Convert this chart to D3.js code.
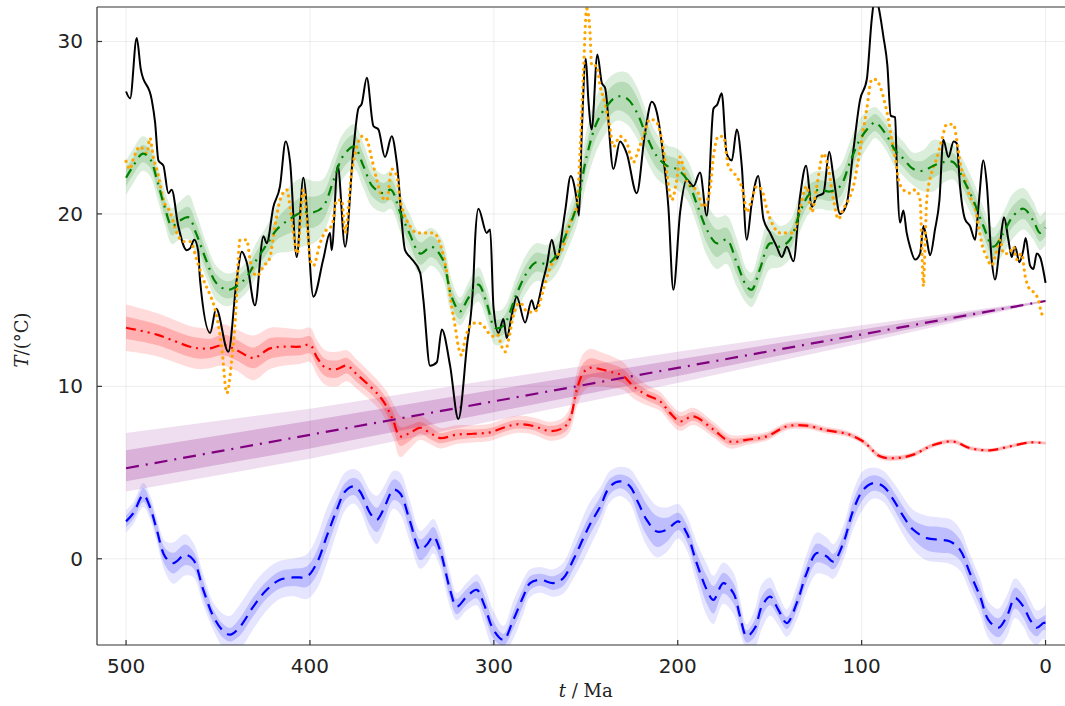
<!DOCTYPE html>
<html><head><meta charset="utf-8">
<script src="https://cdn.jsdelivr.net/npm/d3@7"></script>
<style>body{margin:0;background:#fff;overflow:hidden}</style></head><body>
<svg id="c" width="1065" height="706"></svg>
<script>
const xTicks=[500,400,300,200,100,0];
const yTicks=[0,10,20,30];

// [age Ma, T °C]
const blackSeries=[[500,27.1],[497.8,26.7],[494.2,30.2],[492,28.4],[486,26.6],[484.2,25.3],[482.4,23.1],[479.7,22.8],[477,21.2],[475.2,21.4],[471.6,19.3],[467,17.9],[465.2,18.0],[462.9,18.5],[460.7,17.8],[459.8,16.2],[454.3,13.1],[451,14.5],[444.4,12.0],[439.8,16.2],[437.1,17.8],[434.4,17.2],[429.9,14.7],[425.3,18.7],[423.5,18.3],[419.9,20.4],[416.3,21.6],[413.2,24.2],[410.8,23.0],[407.2,17.5],[403.6,22.1],[398.1,15.2],[392.7,17.4],[389.1,18.9],[388.2,17.9],[384.9,22.8],[380.9,18.1],[376.4,23.7],[373.7,26.1],[371.8,26.4],[369.1,27.9],[365.5,25.1],[362.8,24.9],[359.2,23.3],[355.5,24.5],[352.8,23.0],[348.3,17.9],[345.6,17.5],[340.1,16.6],[338.3,15.0],[334.7,11.2],[331,11.4],[328.3,13.3],[323.8,11.2],[319.3,8.1],[314.7,12.3],[311.1,16.2],[310.2,18.5],[308.4,20.3],[303.9,18.9],[302,19.1],[300.2,14.6],[297.5,13.1],[294.8,13.9],[293,12.8],[290.3,14.1],[287.6,15.2],[283,13.7],[279.4,15.0],[277.6,14.45],[273.1,16.2],[271.2,17.0],[268.5,18.5],[265.8,17.4],[261.3,20.1],[258.2,22.2],[254.9,20.8],[253.7,19.9],[252.2,24.7],[250,29.0],[248.6,26.6],[246.8,24.9],[243.7,29.25],[241.3,27.6],[239.5,27.3],[235,22.6],[231.4,24.2],[227.7,23.5],[222.3,21.2],[217.8,24.7],[214.1,26.5],[211.4,25.9],[207.8,23.3],[205.1,20.4],[202.4,15.6],[198.7,20.1],[195.1,22.0],[191.5,21.6],[187.9,22.4],[184.2,19.9],[180.6,26.1],[178.5,26.35],[176.1,27.0],[173.4,23.5],[170.6,23.1],[167.9,24.9],[165.2,22.8],[162.5,18.5],[159.8,20.6],[156.2,22.2],[153.4,19.7],[149.8,18.9],[146.2,18.1],[143.4,17.5],[140.7,18.1],[137.1,17.25],[133.5,21.0],[130.2,22.8],[127.1,20.4],[124.4,21.0],[120.8,21.2],[117.6,23.6],[115.4,22.2],[111.7,20.0],[108.1,20.6],[104.5,23.7],[100.9,26.6],[97.2,27.8],[94.5,31.3],[92.7,32.6],[90.9,32.05],[88.2,30.3],[86.0,28.6],[84.2,25.7],[81.8,25.6],[80.9,22.8],[79.1,19.5],[77.3,20.2],[75.5,18.9],[73.7,18.1],[70.9,17.35],[68.2,17.7],[66.4,19.3],[64.6,18.5],[62.8,17.6],[60.1,19.1],[57.7,20.8],[55.6,24.3],[52.8,23.3],[50,24.2],[48.3,24.1],[46.5,21.6],[43.8,19.7],[41.1,19.3],[38.3,18.5],[36.5,20.4],[33.8,23.1],[32,21.8],[29.3,17.35],[27.5,16.2],[24.7,18.3],[22.6,19.8],[20.2,18.5],[18.4,17.5],[16.6,18.1],[14.2,17.2],[12.1,17.9],[10.8,18.6],[8.4,17.0],[6.6,16.8],[4.8,17.7],[3,17.5],[0,16.0]];

const orangeSeries=[[500,23.05],[497.8,22.6],[496,23.2],[492.4,23.9],[488.7,23.5],[487,24.4],[485.2,23.3],[482.4,22.2],[479.7,20.8],[476,20.1],[472.4,18.9],[468.8,18.4],[465.2,18.4],[461.6,17.35],[458,16.2],[454.3,15.3],[452.5,14.8],[448,12.3],[445.2,9.6],[442.5,11.55],[440.7,13.7],[438,18.5],[434.4,18.5],[432.6,17.35],[428.9,16.4],[425,17.0],[422,17.4],[419,19.3],[416.3,20.8],[412.6,21.4],[410.8,20.4],[409,18.9],[406.9,17.7],[403.6,21.4],[401.7,19.7],[399.9,17.35],[398.1,17.0],[394.5,18.3],[390.9,19.1],[388.1,19.3],[385.4,20.8],[382.7,20.8],[380.9,18.9],[377.3,22.4],[374.5,23.9],[371.8,24.5],[369.1,24.3],[366.4,23.2],[363.7,22.0],[360.9,21.0],[358.2,20.8],[355.5,22.6],[352.8,22.2],[351,20.8],[349.2,20.1],[345.6,19.3],[341.9,18.9],[338.3,18.9],[332.9,18.9],[329.3,18.3],[325.6,16.6],[322.9,14.6],[321.1,13.5],[319.3,12.3],[317.5,11.8],[315.7,12.7],[312.9,13.5],[309.3,13.7],[305.6,13.5],[302.9,13.1],[300.2,12.9],[298,13.0],[295.7,12.3],[293.9,12.0],[292,12.7],[289.4,14.1],[285.7,14.85],[282.1,14.35],[278.5,14.3],[275.8,14.6],[273.1,15.6],[270.4,16.6],[265.8,17.55],[262.2,18.1],[260.4,18.9],[256.8,19.9],[254.9,20.4],[253.1,23.7],[251.3,28.2],[249.5,31.9],[247.7,30.5],[246.8,28.6],[244.1,28.6],[242.2,27.4],[239.5,26.4],[236.8,24.9],[235,23.9],[231.4,24.5],[227.7,24.1],[224.1,23.0],[221.4,23.7],[218.7,24.5],[215.1,25.5],[211.4,25.3],[208.7,24.3],[206,22.4],[203.3,20.8],[200.5,22.0],[198.7,23.3],[196,22.2],[193.3,21.6],[189.7,21.4],[186.1,20.4],[182.5,21.4],[180.6,23.3],[177.9,24.5],[175.2,24.5],[172.5,22.8],[169.7,22.4],[167,22.0],[164.3,21.2],[162.5,20.1],[159.8,20.8],[157.1,21.6],[154.3,21.4],[151.6,20.3],[148,19.3],[144.4,18.9],[140.7,18.9],[137.1,18.9],[133.5,20.3],[129.9,21.6],[127.1,20.1],[124.4,21.6],[120.8,23.5],[118,22.6],[115.3,20.8],[112.6,19.7],[109.9,20.3],[107.2,20.8],[104.5,21.6],[100.9,23.7],[97.2,26.1],[94.5,27.8],[92.7,27.8],[90,27.4],[87.3,26.4],[85.5,25.5],[83.6,24.3],[81.8,23.3],[80,22.0],[77.3,21.4],[73.7,21.2],[70.9,21.4],[68.2,20.8],[67.3,18.2],[66.4,15.8],[65.5,18.3],[64.6,20.8],[61.9,22.4],[59.2,23.2],[56.4,24.3],[53.7,25.2],[50.1,25.2],[48.3,24.3],[46.5,23.0],[43.8,22.0],[41.1,21.0],[38.3,20.4],[36.5,19.3],[34.7,18.3],[32,17.5],[29.3,17.0],[27.5,17.5],[24.7,18.5],[22.9,17.7],[20,17.7],[17.5,18.1],[15.7,17.35],[13,17.7],[11.1,16.4],[8.4,15.6],[5.7,15.4],[3.9,15.0],[2,14.2],[0,14.0]];

// [age, mean, inner half-width, outer half-width]
const greenSeries=[[500,22.1,.5,1.0],[496,22.8,.5,1.0],[491,23.5,.5,1.0],[487,23.2,.5,1.0],[483,21.9,.5,1.0],[479,20.4,.5,1.0],[475,19.3,.55,1.05],[471,19.6,.55,1.1],[466,19.8,.6,1.3],[462,18.9,.6,1.2],[456,17.2,.55,1.0],[451,16.0,.5,1.0],[445,15.6,.5,.95],[440,15.8,.5,.9],[434,16.4,.5,.9],[429,17.35,.5,1.0],[423,18.3,.55,1.1],[418,19.1,.6,1.4],[411,19.7,.8,1.9],[404,20.1,.9,2.0],[398,20.1,.9,1.8],[393,20.4,.8,1.6],[387,22.0,.75,1.4],[382,23.35,.7,1.3],[376,23.9,.7,1.3],[371,22.8,.7,1.3],[366,21.6,.6,1.2],[360,21.2,.6,1.1],[356,21.4,.6,1.1],[351,20.1,.6,1.1],[346,18.9,.6,1.15],[340,17.7,.65,1.2],[334,18.1,.6,1.1],[328,17.4,.6,1.1],[323,15.2,.5,1.0],[318.4,14.35,.45,.8],[314,15.1,.5,.9],[308.4,15.9,.5,1.0],[304,14.85,.5,1.0],[299.3,13.4,.5,1.0],[295,13.5,.5,1.0],[287.5,15.4,.55,1.05],[282,16.6,.55,1.1],[277,17.2,.55,1.1],[271,17.1,.55,1.1],[266,17.6,.55,1.1],[260.4,18.9,.55,1.1],[255,20.45,.6,1.2],[249.5,23.35,.7,1.5],[244,25.3,.8,1.6],[238.6,26.25,.8,1.5],[233.2,26.8,.8,1.4],[227.7,26.7,.9,1.5],[222.3,25.9,.9,1.5],[216.9,24.5,.8,1.4],[211.4,23.35,.7,1.3],[206,22.8,.6,1.2],[200.5,22.6,.6,1.2],[195,22.0,.6,1.2],[189.7,20.6,.6,1.2],[184.2,19.1,.8,1.5],[178.8,18.3,.8,1.5],[173.4,18.5,.7,1.4],[168,17.2,.7,1.4],[162.5,15.8,.5,1.0],[159.8,15.6,.5,1.0],[155.3,16.8,.6,1.3],[149.8,18.3,.7,1.5],[144.4,18.1,.6,1.2],[139,18.5,.55,1.1],[133.5,20.1,.55,1.1],[128,21.2,.55,1.1],[122.7,21.4,.55,1.1],[117.3,21.3,.55,1.1],[111.7,21.6,.6,1.2],[106.3,23.0,.6,1.2],[101,24.3,.6,1.2],[95.4,25.1,.5,1.0],[92.7,25.3,.5,.9],[87.3,24.7,.5,.9],[81.8,23.7,.5,1.0],[77.3,23.2,.5,1.0],[71.9,22.6,.5,.95],[66.4,22.5,.6,1.2],[61,22.8,.7,1.5],[55.6,23.0,.6,1.2],[50.1,23.0,.5,1.0],[44.7,22.0,.55,1.1],[39.3,20.8,.55,1.1],[33.8,19.3,.55,1.1],[28.4,18.1,.55,1.1],[22.9,18.9,.6,1.2],[17.5,19.9,.6,1.3],[12,20.3,.6,1.2],[6.6,19.6,.6,1.1],[3,18.9,.5,1.0],[0,19.2,.5,1.0]];

const redSeries=[[500,13.4,.65,1.35],[483.3,13.0,.6,1.25],[465.2,12.3,.6,1.2],[459.8,12.2,.6,1.2],[454.3,12.2,.55,1.15],[447.1,12.4,.6,1.2],[439.8,12.1,.6,1.2],[430.8,11.65,.6,1.3],[421.7,12.2,.6,1.2],[414.5,12.3,.55,1.1],[405.4,12.3,.5,1.0],[399.9,12.4,.5,1.0],[396.3,11.7,.5,1.0],[391.8,11.1,.5,1.0],[385.4,11.0,.5,1.0],[380,11.2,.45,.9],[374.5,10.7,.45,.85],[367.3,10.0,.4,.8],[361.9,9.4,.4,.8],[358.2,8.8,.45,.9],[354.6,7.97,.5,1.0],[351,7.1,.55,1.2],[345.6,7.3,.45,.9],[340.1,7.6,.35,.7],[334.7,7.3,.35,.65],[329.3,7.0,.3,.6],[320.2,7.2,.3,.55],[311.1,7.25,.25,.5],[302.1,7.33,.25,.5],[294.8,7.6,.25,.5],[287.5,7.8,.25,.5],[278.5,7.7,.25,.5],[269.4,7.4,.3,.55],[262.2,7.6,.3,.6],[258.6,8.1,.35,.7],[254.9,9.8,.5,1.0],[251.3,10.8,.55,1.1],[247.7,11.07,.55,1.1],[242.3,11.0,.5,1.0],[235,10.8,.45,.9],[229.6,10.6,.4,.8],[224.1,10.0,.35,.7],[216.9,9.5,.3,.6],[209.6,9.13,.3,.55],[204.2,8.46,.3,.55],[198.7,7.97,.3,.55],[191.5,8.26,.25,.5],[180.6,7.49,.25,.45],[171.6,6.8,.2,.4],[162.5,6.9,.15,.3],[151.6,7.1,.15,.25],[140.7,7.68,.12,.22],[129.9,7.72,.12,.2],[119,7.45,.1,.2],[108.1,7.25,.1,.18],[99.1,6.8,.1,.18],[90,5.94,.1,.18],[80.9,5.84,.1,.16],[71.9,6.04,.1,.15],[61,6.6,.08,.15],[50.1,6.8,.08,.14],[41.1,6.42,.08,.13],[30.2,6.29,.07,.12],[19.3,6.52,.07,.12],[8.4,6.75,.06,.1],[0,6.7,.05,.1]];

// [age, mean, outer low, inner low, inner high, outer high]
const purpleSeries=[[500,5.25,3.9,4.5,6.3,7.3],[400,7.19,5.8,6.4,8.0,8.7],[300,9.13,8.0,8.5,9.8,10.4],[200,11.07,10.2,10.6,11.55,12.0],[100,13.01,12.5,12.75,13.3,13.55],[0,14.95,14.9,14.92,14.98,15.0]];

const blueSeries=[[500,2.17,.35,.65],[496,2.65,.35,.65],[490.6,3.7,.4,.7],[487,3.0,.4,.7],[483.3,1.68,.4,.7],[478.8,0.13,.5,.9],[474.3,-0.25,.6,1.2],[467.9,0.23,.6,1.2],[463.4,-0.06,.5,1.0],[458,-1.8,.5,.9],[452.5,-3.35,.4,.8],[447.1,-4.2,.4,1.0],[443.4,-4.4,.4,1.1],[438,-3.93,.5,1.3],[430.8,-2.77,.55,1.3],[423.5,-1.8,.5,1.2],[416.3,-1.22,.5,1.1],[409,-1.08,.5,1.1],[401.7,-1.03,.6,1.3],[396.3,-0.25,.7,1.5],[390.9,1.3,.75,1.6],[385.4,2.84,.6,1.3],[380.9,3.9,.5,1.1],[376.4,4.2,.5,1.0],[372.8,3.9,.6,1.1],[367.3,2.65,.7,1.3],[363.7,2.26,.7,1.4],[360.1,2.84,.7,1.3],[354.6,4.0,.6,1.1],[351,3.8,.6,1.2],[345.6,2.17,.6,1.2],[340.1,0.52,.6,1.1],[336.5,0.81,.6,1.1],[332.9,1.3,.55,1.0],[329.3,0.52,.55,1.0],[323.8,-1.8,.5,1.0],[320.2,-2.77,.45,.8],[314.7,-2.19,.45,.8],[309.3,-1.8,.5,.9],[305.6,-2.57,.55,1.1],[300.2,-4.12,.5,1.1],[294.8,-4.7,.35,.8],[289.4,-3.54,.5,1.1],[284,-2.19,.5,1.0],[280.3,-1.41,.4,.8],[274.9,-1.22,.35,.75],[267.6,-1.41,.4,.8],[262.2,-1.12,.45,.9],[256.8,-0.06,.55,1.1],[251.3,1.2,.6,1.3],[247.7,2.0,.6,1.3],[242.3,3.0,.55,1.1],[236.8,4.2,.45,.9],[231.4,4.49,.4,.85],[226,4.2,.5,1.0],[221.4,3.23,.8,1.3],[216.9,2.26,.9,1.5],[211.4,1.58,.9,1.5],[206,1.68,.7,1.3],[199.7,2.17,.5,1.0],[195.1,1.49,.5,1.0],[189.7,-0.25,.6,1.2],[184.2,-1.8,.8,1.5],[180.6,-2.38,.8,1.4],[175.2,-1.41,.6,1.2],[169.7,-2.0,.6,1.2],[166.1,-3.35,.5,1.0],[162.5,-4.5,.35,.7],[158,-4.0,.5,1.1],[154.3,-2.77,.6,1.3],[149.8,-2.19,.5,1.1],[145.3,-2.96,.4,.9],[140.7,-3.73,.35,.8],[135.3,-2.57,.45,1.0],[129.9,-0.83,.5,1.1],[124.4,0.33,.55,1.2],[119,0.13,.5,1.1],[115.4,-0.16,.45,1.0],[110,0.91,.5,1.0],[104.5,2.84,.55,1.1],[99.1,4.0,.55,1.1],[93.6,4.39,.45,.9],[88.2,4.2,.45,.9],[82.7,3.42,.5,1.0],[77.3,2.46,.55,1.1],[71.9,1.68,.55,1.15],[64.6,1.2,.7,1.3],[57.4,1.1,.75,1.3],[51.9,1.0,.7,1.3],[46.5,0.52,.6,1.2],[41.1,-0.83,.6,1.1],[35.6,-2.19,.55,1.05],[31.1,-3.54,.55,1.05],[25.7,-4.0,.55,1.1],[21.1,-3.35,.6,1.2],[16.6,-2.28,.6,1.15],[12.1,-2.77,.65,1.15],[8.4,-3.54,.65,1.15],[4.8,-4.0,.5,1.0],[1.2,-3.73,.4,.9],[0,-3.7,.45,1.1]];

const svg=d3.select("#c");
const L=97,R=1074.6,T=7,B=645;
const x=d3.scaleLinear().domain([515.8,-15.8]).range([L,R]);
const y=d3.scaleLinear().domain([-5,32]).range([B,T]);

svg.append("defs").append("clipPath").attr("id","clip")
  .append("rect").attr("x",L).attr("y",T).attr("width",R-L).attr("height",B-T);

// grid
const grid=svg.append("g");
grid.selectAll(".gx").data(xTicks).join("line")
  .attr("x1",d=>x(d)).attr("x2",d=>x(d)).attr("y1",T).attr("y2",B)
  .attr("stroke","#000").attr("stroke-opacity",0.07).attr("stroke-width",1);
grid.selectAll(".gy").data(yTicks).join("line")
  .attr("y1",d=>y(d)).attr("y2",d=>y(d)).attr("x1",L).attr("x2",R)
  .attr("stroke","#000").attr("stroke-opacity",0.07).attr("stroke-width",1);

const plot=svg.append("g").attr("clip-path","url(#clip)");
const cr=d3.curveCatmullRom.alpha(0.5);
const cm=d3.curveMonotoneX;

function bands(data,color,aOut,aIn){
  const outer=d3.area().curve(cr).x(d=>x(d[0])).y0(d=>y(d[1]-d[3])).y1(d=>y(d[1]+d[3]));
  const inner=d3.area().curve(cr).x(d=>x(d[0])).y0(d=>y(d[1]-d[2])).y1(d=>y(d[1]+d[2]));
  plot.append("path").attr("d",outer(data)).attr("fill",color).attr("fill-opacity",aOut);
  plot.append("path").attr("d",inner(data)).attr("fill",color).attr("fill-opacity",aIn);
}
function line(data,color,w,dash,curve,cap){
  const g=d3.line().curve(curve).x(d=>x(d[0])).y(d=>y(d[1]));
  plot.append("path").attr("d",g(data)).attr("fill","none").attr("stroke",color)
    .attr("stroke-width",w).attr("stroke-dasharray",dash).attr("stroke-linecap",cap||"butt")
    .attr("stroke-linejoin","round");
}

// purple bands
const pOut=d3.area().x(d=>x(d[0])).y0(d=>y(d[2])).y1(d=>y(d[5]));
const pIn=d3.area().x(d=>x(d[0])).y0(d=>y(d[3])).y1(d=>y(d[4]));
plot.append("path").attr("d",pOut(purpleSeries)).attr("fill","#800080").attr("fill-opacity",0.13);
plot.append("path").attr("d",pIn(purpleSeries)).attr("fill","#800080").attr("fill-opacity",0.2);

bands(redSeries,"#ff0000",0.14,0.2);
bands(blueSeries,"#0000ff",0.1,0.17);
bands(greenSeries,"#008000",0.14,0.17);

line(purpleSeries,"#800080",2.2,"13,7,2,7",d3.curveLinear);
line(redSeries,"#ff0000",2.2,"10,5,2,5,2,5",cr);
line(blueSeries,"#0000ff",2.2,"11,7",cr);
line(blackSeries,"#000000",2,null,cm);
line(orangeSeries,"#ffa500",3.2,"0.1,6",cm,"round");
line(greenSeries,"#008000",2.2,"10,6,2,6",cr);

// frame
const ax=svg.append("g").attr("stroke","#333").attr("stroke-width",1.2);
ax.append("line").attr("x1",L).attr("x2",L).attr("y1",T).attr("y2",B);
ax.append("line").attr("x1",L).attr("x2",R).attr("y1",B).attr("y2",B);
ax.append("line").attr("x1",L).attr("x2",R).attr("y1",T).attr("y2",T);
ax.append("line").attr("x1",R).attr("x2",R).attr("y1",T).attr("y2",B);
// ticks
svg.append("g").selectAll("line").data(xTicks).join("line")
  .attr("x1",d=>x(d)).attr("x2",d=>x(d)).attr("y1",B).attr("y2",B-5)
  .attr("stroke","#333").attr("stroke-width",1.2);
svg.append("g").selectAll("line").data(yTicks).join("line")
  .attr("y1",d=>y(d)).attr("y2",d=>y(d)).attr("x1",L).attr("x2",L+5)
  .attr("stroke","#333").attr("stroke-width",1.2);

const font="'DejaVu Sans', sans-serif";
svg.append("g").selectAll("text").data(xTicks).join("text")
  .attr("x",d=>x(d)).attr("y",673).attr("text-anchor","middle")
  .attr("font-family",font).attr("font-size",20).attr("fill","#222").text(d=>d);
svg.append("g").selectAll("text").data(yTicks).join("text")
  .attr("x",83).attr("y",d=>y(d)+7).attr("text-anchor","end")
  .attr("font-family",font).attr("font-size",20).attr("fill","#222").text(d=>d);

const serif="'DejaVu Serif', serif";
const xl=svg.append("text").attr("x",(x(500)+x(0))/2).attr("y",697).attr("text-anchor","middle")
  .attr("font-family",serif).attr("font-size",18).attr("fill","#222");
xl.append("tspan").attr("font-style","italic").text("t");
xl.append("tspan").text(" / Ma");
const yl=svg.append("text").attr("transform","translate(28,"+((y(-5)+y(32))/2+14)+") rotate(-90)")
  .attr("text-anchor","middle").attr("font-family",serif).attr("font-size",18).attr("fill","#222");
yl.append("tspan").attr("font-style","italic").text("T");
yl.append("tspan").text("/(°C)");
</script></body></html>
